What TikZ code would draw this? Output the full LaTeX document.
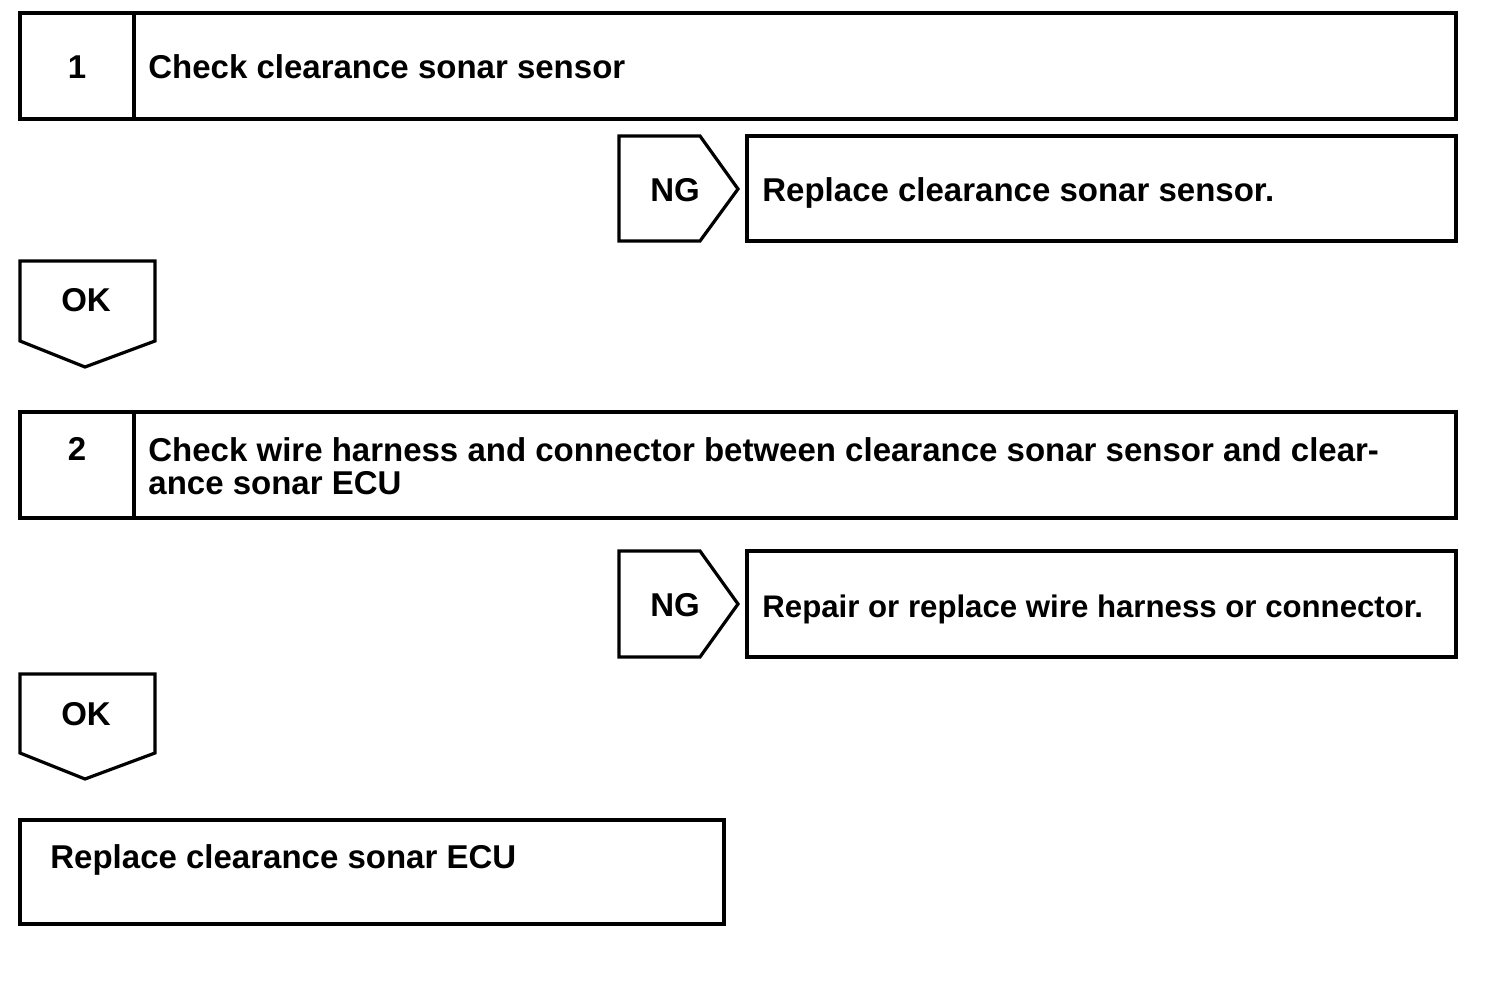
\documentclass[tikz,border=0pt]{standalone}
\usepackage{fontspec}
\setmainfont{Liberation Sans}
\usepackage{tikz}
\tikzset{frame/.style = {line width=1.6pt, line join=miter}}
\tikzset{txt/.style = {font=\fontsize{16.5}{16.5}\selectfont\bfseries, inner sep=0}}

\begin{document}
\begin{tikzpicture}[x=0.5pt, y=-0.5pt]
    \useasboundingbox (0, 0) rectangle (1504, 984);

    % step 1
    \draw [frame] (20, 13) rectangle (1456, 119);
    \draw [frame] (134, 13) -- (134, 119);
    \node (num1) at (77, 79) [txt, anchor=base] {1};
    \node (check1) at (148, 79) [txt, anchor=base west] {Check clearance sonar sensor};

    \draw [frame] (619, 136) -- (700, 136) -- (738, 189) -- (700, 241) -- (619, 241) -- cycle;
    \node (ng1) at (675, 202) [txt, anchor=base] {NG};
    \draw [frame] (747, 136) rectangle (1456, 241);
    \node (fix1) at (762, 202) [txt, anchor=base west] {Replace clearance sonar sensor.};

    \draw [frame] (20, 261) -- (155, 261) -- (155, 341) -- (85, 367) -- (20, 341) -- cycle;
    \node (ok1) at (86, 312) [txt, anchor=base] {OK};

    % step 2
    \draw [frame] (20, 412) rectangle (1456, 518);
    \draw [frame] (134, 412) -- (134, 518);
    \node (num2) at (77, 460) [txt, anchor=base] {2};
    \node (check2) at (148, 494) [txt, anchor=base west, align=left]
      {Check wire harness and connector between clearance sonar sensor and clear-\\ance sonar ECU};

    \draw [frame] (619, 551) -- (700, 551) -- (738, 604) -- (700, 657) -- (619, 657) -- cycle;
    \node (ng2) at (675, 616) [txt, anchor=base] {NG};
    \draw [frame] (747, 551) rectangle (1456, 657);
    \node (fix2) at (762, 617) [txt, anchor=base west, font=\fontsize{15.6}{15.6}\selectfont\bfseries]
      {Repair or replace wire harness or connector.};

    \draw [frame] (20, 674) -- (155, 674) -- (155, 753) -- (85, 779) -- (20, 753) -- cycle;
    \node (ok2) at (86, 725) [txt, anchor=base] {OK};

    % last step
    \draw [frame] (20, 820) rectangle (724, 924);
    \node (fix3) at (50, 868) [txt, anchor=base west] {Replace clearance sonar ECU};
  \end{tikzpicture}
\end{document}
